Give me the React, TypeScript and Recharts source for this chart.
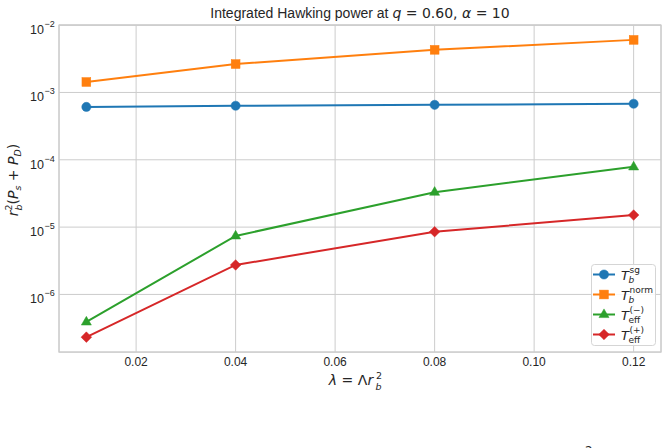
import React from 'react';
import { LineChart, Line, XAxis, YAxis, CartesianGrid, Legend, ReferenceArea } from 'recharts';

const lambdas = [0.01, 0.04, 0.08, 0.12];
const tbSg = [6.1e-4, 6.35e-4, 6.55e-4, 6.8e-4];
const tbNorm = [1.43e-3, 2.64e-3, 4.3e-3, 6.04e-3];
const teffMinus = [3.9e-7, 7.4e-6, 3.3e-5, 7.85e-5];
const teffPlus = [2.32e-7, 2.74e-6, 8.55e-6, 1.51e-5];
const xTicks = [0.02, 0.04, 0.06, 0.08, 0.1, 0.12];
const yTickExps = [-6, -5, -4, -3, -2];

const X_DOMAIN: [number, number] = [0.0045, 0.1255];
const Y_DOMAIN: [number, number] = [Math.pow(10, -6.855), Math.pow(10, -1.998)];

const data = lambdas.map((l, i) => ({
  lambda: l,
  sg: tbSg[i],
  norm: tbNorm[i],
  minus: teffMinus[i],
  plus: teffPlus[i],
}));

const C_BLUE = '#1f77b4';
const C_ORANGE = '#ff7f0e';
const C_GREEN = '#2ca02c';
const C_RED = '#d62728';
const TXT = '#262626';
const GRID = '#cccccc';
const SANS = '"Liberation Sans", Arial, sans-serif';
const MATH = '"DejaVu Sans", sans-serif';

type Kind = 'circle' | 'square' | 'triangle' | 'diamond';

const markerEl = (kind: Kind, cx: number, cy: number, color: string, key?: any) => {
  if (kind === 'circle') return <circle key={key} cx={cx} cy={cy} r={4.6} fill={color} stroke={color} strokeWidth={0.5} />;
  if (kind === 'square') return <rect key={key} x={cx - 4.4} y={cy - 4.4} width={8.8} height={8.8} fill={color} stroke={color} strokeWidth={0.5} />;
  if (kind === 'triangle') {
    const r = 5.6;
    return <polygon key={key} points={`${cx},${cy - r} ${cx + r * 0.9},${cy + r * 0.55} ${cx - r * 0.9},${cy + r * 0.55}`} fill={color} stroke={color} strokeWidth={0.5} />;
  }
  const d = 5.3;
  return <polygon key={key} points={`${cx},${cy - d} ${cx + d},${cy} ${cx},${cy + d} ${cx - d},${cy}`} fill={color} stroke={color} strokeWidth={0.5} />;
};

const makeDot = (kind: Kind, color: string) => (props: any) => {
  const { cx, cy, index } = props;
  if (cx == null || cy == null) return <g key={`d${index}`} />;
  return markerEl(kind, cx, cy, color, `d${kind}${index}`);
};

const YTick = (props: any) => {
  const { x, y, payload } = props;
  const e = Math.round(Math.log10(payload.value));
  return (
    <g>
      <text x={x - 15} y={y + 9} textAnchor="end" fontFamily={SANS} fontSize={12.5} fill={TXT}>10</text>
      <text x={x - 14.5} y={y + 2} textAnchor="start" fontFamily={SANS} fontSize={9} fill={TXT}>{'\u2212' + Math.abs(e)}</text>
    </g>
  );
};

const XTick = (props: any) => {
  const { x, y, payload } = props;
  return (
    <text x={x} y={y + 14} textAnchor="middle" fontFamily={SANS} fontSize={12} fill={TXT}>
      {Number(payload.value).toFixed(2)}
    </text>
  );
};

const legendItems: { kind: Kind; color: string; sup: string; sub: string }[] = [
  { kind: 'circle', color: C_BLUE, sup: 'sg', sub: 'b' },
  { kind: 'square', color: C_ORANGE, sup: 'norm', sub: 'b' },
  { kind: 'triangle', color: C_GREEN, sup: '(\u2212)', sub: 'eff' },
  { kind: 'diamond', color: C_RED, sup: '(+)', sub: 'eff' },
];

const LegendContent = () => {
  const rows = [10.5, 30.5, 50.5, 70.5];
  return (
    <svg width={66} height={83} style={{ display: 'block' }}>
      <rect x={0.5} y={0.5} width={64} height={81} rx={3} ry={3} fill="rgba(255,255,255,0.85)" stroke="#d5d5d5" strokeWidth={1} />
      {legendItems.map((it, i) => {
        const ry = rows[i];
        return (
          <g key={i}>
            <line x1={2} x2={24} y1={ry} y2={ry} stroke={it.color} strokeWidth={2} />
            {markerEl(it.kind, 13, ry, it.color)}
            <text x={30} y={ry + 5} fontFamily={MATH} fontStyle="italic" fontSize={13} fill={TXT}>T</text>
            <text x={38.5} y={ry - 1.5} fontFamily={MATH} fontStyle={it.sup === 'sg' || it.sup === 'norm' ? 'normal' : 'normal'} fontSize={9} fill={TXT}>{it.sup}</text>
            <text x={37.5} y={ry + 8.5} fontFamily={MATH} fontStyle={it.sub === 'b' ? 'italic' : 'normal'} fontSize={9} fill={TXT}>{it.sub}</text>
          </g>
        );
      })}
    </svg>
  );
};

export default function App() {
  return (
    <div style={{ position: 'absolute', left: 0, top: 0, width: 668, height: 448, background: '#ffffff' }}>
      <LineChart
        width={668}
        height={448}
        data={data}
        margin={{ top: 25, right: 7, bottom: 66, left: 9 }}
        style={{ background: '#ffffff' }}
      >
        <CartesianGrid stroke={GRID} strokeWidth={1} />
        <XAxis
          dataKey="lambda"
          type="number"
          domain={X_DOMAIN}
          ticks={xTicks}
          allowDataOverflow
          height={30}
          tick={<XTick />}
          tickLine={false}
          axisLine={false}
          tickSize={0}
          tickMargin={0}
          interval={0}
        />
        <YAxis
          type="number"
          scale="log"
          domain={Y_DOMAIN}
          ticks={yTickExps.map((e) => Math.pow(10, e))}
          allowDataOverflow
          width={50}
          tick={<YTick />}
          tickLine={false}
          axisLine={false}
          tickSize={0}
          tickMargin={0}
          interval={0}
        />
        <ReferenceArea
          x1={X_DOMAIN[0]}
          x2={X_DOMAIN[1]}
          y1={Y_DOMAIN[0]}
          y2={Y_DOMAIN[1]}
          fill="none"
          fillOpacity={0}
          stroke={GRID}
          strokeWidth={1.25}
          ifOverflow="visible"
        />
        <Line dataKey="sg" stroke={C_BLUE} strokeWidth={2} dot={makeDot('circle', C_BLUE)} isAnimationActive={false} activeDot={false} />
        <Line dataKey="norm" stroke={C_ORANGE} strokeWidth={2} dot={makeDot('square', C_ORANGE)} isAnimationActive={false} activeDot={false} />
        <Line dataKey="minus" stroke={C_GREEN} strokeWidth={2} dot={makeDot('triangle', C_GREEN)} isAnimationActive={false} activeDot={false} />
        <Line dataKey="plus" stroke={C_RED} strokeWidth={2} dot={makeDot('diamond', C_RED)} isAnimationActive={false} activeDot={false} />
        <Legend
          layout="vertical"
          align="center"
          verticalAlign="middle"
          wrapperStyle={{ left: 591, top: 264, width: 66, height: 83 }}
          content={<LegendContent />}
        />
      </LineChart>
      <svg width={668} height={448} style={{ position: 'absolute', left: 0, top: 0, pointerEvents: 'none' }}>
        <text x={360} y={18} textAnchor="middle" fontSize={14} fill={TXT}>
          <tspan fontFamily={SANS}>Integrated Hawking power at </tspan>
          <tspan fontFamily={MATH} fontStyle="italic">q</tspan>
          <tspan fontFamily={MATH}> = 0.60, </tspan>
          <tspan fontFamily={MATH} fontStyle="italic">α</tspan>
          <tspan fontFamily={MATH}> = 10</tspan>
        </text>
        <text x={351} y={385} textAnchor="middle" fontSize={14} fill={TXT} fontFamily={MATH}>
          <tspan fontStyle="italic">λ</tspan>
          <tspan> = Λ</tspan>
          <tspan fontStyle="italic">r</tspan>
        </text>
        <text x={376} y={379} fontSize={9.5} fill={TXT} fontFamily={MATH}>2</text>
        <text x={375.5} y={390} fontSize={9.5} fill={TXT} fontFamily={MATH} fontStyle="italic">b</text>
        <g transform="rotate(-90 18 180)">
          <text x={18} y={180} textAnchor="middle" fontSize={14} fill={TXT} fontFamily={MATH}>
            <tspan fontStyle="italic">r</tspan>
            <tspan fontSize={9.5} dy={-6}>2</tspan>
            <tspan fontSize={9.5} fontStyle="italic" dx={-6} dy={10}>b</tspan>
            <tspan dy={-4}>(</tspan>
            <tspan fontStyle="italic">P</tspan>
            <tspan fontSize={9.5} fontStyle="italic" dy={3}>s</tspan>
            <tspan dy={-3}> + </tspan>
            <tspan fontStyle="italic">P</tspan>
            <tspan fontSize={9.5} fontStyle="italic" dy={3}>D</tspan>
            <tspan dy={-3}>)</tspan>
          </text>
        </g>
        <text x={585} y={455} fontSize={12} fill={TXT} fontFamily={MATH}>2</text>
      </svg>
    </div>
  );
}
